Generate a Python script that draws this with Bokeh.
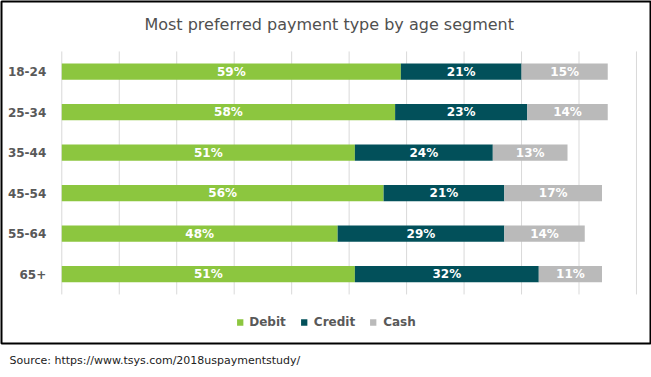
from bokeh.plotting import figure
from bokeh.models import (Range1d, ColumnDataSource, Legend, LegendItem, Label, Title)
from bokeh.core.properties import value
from bokeh.embed import file_html
from bokeh.resources import INLINE

# ---- data ----
ages = ["18-24", "25-34", "35-44", "45-54", "55-64", "65+"]
debit = [59, 58, 51, 56, 48, 51]
credit = [21, 23, 24, 21, 29, 32]
cash = [15, 14, 13, 17, 14, 11]
series = ["Debit", "Credit", "Cash"]
colors = ["#8cc63f", "#02505a", "#bababa"]
title_text = "Most preferred payment type by age segment"
source_note = "Source: https://www.tsys.com/2018uspaymentstudy/"
grid_ticks = [0, 10, 20, 30, 40, 50, 60, 70, 80, 90, 100]

FONT = "DejaVu Sans"
W, H = 651, 374

n = len(ages)
ypos = [n - 1 - i for i in range(n)]  # first category on top

src = ColumnDataSource(dict(y=ypos, age=ages, Debit=debit, Credit=credit, Cash=cash))

p = figure(
    width=W, height=H,
    x_range=Range1d(-10.49, 102.44),
    y_range=Range1d(-1.711, 6.733),
    output_backend="svg", toolbar_location=None,
    x_axis_location=None, y_axis_location=None,
    min_border_left=1, min_border_right=1, min_border_top=1, min_border_bottom=31,
)
p.outline_line_color = "black"
p.outline_line_width = 2
p.background_fill_color = "white"
p.border_fill_color = "white"
p.xgrid.visible = False
p.ygrid.visible = False

# vertical gridlines over the plot area
p.segment(x0=grid_ticks, x1=grid_ticks,
          y0=[-0.5] * len(grid_ticks), y1=[n - 0.5] * len(grid_ticks),
          line_color="#d9d9d9", line_width=1)

renderers = p.hbar_stack(series, y="y", height=0.4, color=colors, source=src, line_color=None)

# data labels
lx, ly, lt = [], [], []
for i in range(n):
    left = 0
    for vals in (debit, credit, cash):
        v = vals[i]
        lx.append(left + v / 2)
        ly.append(ypos[i])
        lt.append(f"{v}%")
        left += v
p.text(x=lx, y=ly, text=lt, text_color="white", text_font=value(FONT),
       text_font_style="bold", text_font_size="12px",
       text_align="center", text_baseline="middle")

# category labels
p.text(x=[-2.7] * n, y=ypos, text=ages, text_color="#595959", text_font=value(FONT),
       text_font_style="bold", text_font_size="12px",
       text_align="right", text_baseline="middle")

# chart title inside the bordered box
p.add_layout(Label(x=327.7, y=319, x_units="screen", y_units="screen",
                   text=title_text, text_font=FONT, text_font_size="16px",
                   text_font_style="normal",
                   text_color="#505050", text_align="center", text_baseline="alphabetic"))

legend = Legend(items=[LegendItem(label=s, renderers=[r]) for s, r in zip(series, renderers)],
                orientation="horizontal", location="bottom_center")
legend.border_line_color = None
legend.background_fill_alpha = 0
legend.label_text_font = FONT
legend.label_text_font_style = "bold"
legend.label_text_font_size = "12px"
legend.label_text_color = "#595959"
legend.glyph_width = 8
legend.glyph_height = 8
legend.label_standoff = 6
legend.spacing = 14
legend.padding = 4
legend.margin = 14
p.add_layout(legend)

# source note under the box
src_title = Title(text=source_note, align="left", text_font=FONT, text_font_size="11px",
                  text_font_style="normal", text_color="#222222", standoff=16, offset=8)
p.add_layout(src_title, "below")

with open("out.html", "w") as f:
    f.write(file_html(p, INLINE))
